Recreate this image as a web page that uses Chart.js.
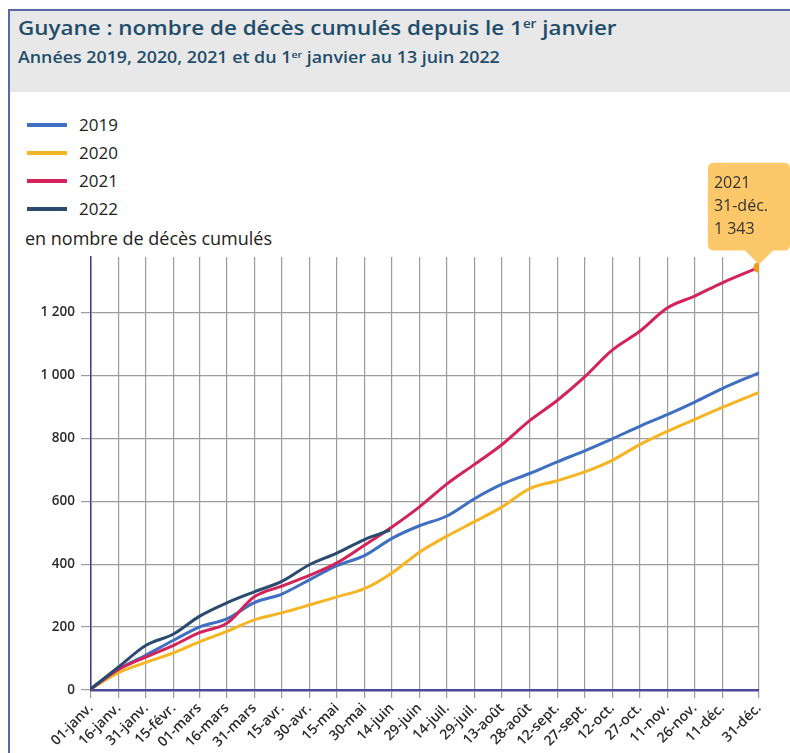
<!DOCTYPE html>
<html lang="fr">
<head>
<meta charset="utf-8">
<script src="https://cdn.jsdelivr.net/npm/chart.js@4.4.0/dist/chart.umd.min.js"></script>
<style>
  html, body { margin: 0; padding: 0; background: #fff; }
  body { width: 790px; height: 753px; position: relative; overflow: hidden; font-family: "Open Sans", sans-serif; }
  .frame { position: absolute; left: 8px; top: 9px; right: 0; bottom: 0; border-left: 2px solid #5a68a8; border-top: 2px solid #5a68a8; }
  .header { position: absolute; left: 10px; top: 11px; right: 0; height: 81px; background: #e8e8e8; }
  .title { position: absolute; left: 18px; top: 18px; font-size: 20px; line-height: 20px; font-weight: 600; color: #1f4d6b; white-space: nowrap; transform: scaleX(1.12); transform-origin: left top; }
  .subtitle { position: absolute; left: 18px; top: 50px; font-size: 15.5px; line-height: 15.5px; font-weight: 600; color: #1f4d6b; white-space: nowrap; transform: scaleX(1.15); transform-origin: left top; }
  sup { font-size: 0.6em; vertical-align: 0.55em; line-height: 0; }
  .legend { position: absolute; left: 27px; top: 0; }
  .legend div { position: absolute; left: 0; white-space: nowrap; font-size: 17px; line-height: 17px; color: #222; }
  .legend span { position: absolute; left: 0; top: 7px; width: 40px; height: 4px; }
  .legend b { position: absolute; left: 52px; top: 0; font-weight: 400; }
  .ytitle { position: absolute; left: 25px; top: 229px; font-size: 18px; line-height: 18px; color: #222; white-space: nowrap; }
  #chart { position: absolute; left: 0; top: 0; }
</style>
</head>
<body>
<div class="frame"></div>
<div class="header"></div>
<div class="title">Guyane : nombre de décès cumulés depuis le 1<sup>er</sup> janvier</div>
<div class="subtitle">Années 2019, 2020, 2021 et du 1<sup>er</sup> janvier au 13 juin 2022</div>
<div class="legend" id="legend"></div>
<div class="ytitle">en nombre de décès cumulés</div>
<canvas id="chart" width="790" height="753"></canvas>

<script>
// ===== Données =====
const years = ['2019', '2020', '2021', '2022'];
const colors = ['#3f6fc2', '#f7b423', '#d3235a', '#2a4a70'];

// jours depuis le 1er janvier (0 = 01-janv.)
const tickDays = [0, 15, 30, 45, 59, 74, 89, 104, 119, 134, 149, 164, 179, 194, 209, 224, 239, 254, 269, 284, 299, 314, 329, 344, 364];
const tickLabels = ['01-janv.', '16-janv.', '31-janv.', '15-févr.', '01-mars', '16-mars', '31-mars', '15-avr.', '30-avr.', '15-mai', '30-mai', '14-juin',
    '29-juin', '14-juil.', '29-juil.', '13-août', '28-août', '12-sept.', '27-sept.', '12-oct.', '27-oct.', '11-nov.', '26-nov.', '11-déc.', '31-déc.'];
const yTicks = [0, 200, 400, 600, 800, 1000, 1200];

const days2022 = [0, 15, 30, 45, 59, 74, 89, 104, 119, 134, 149, 163];

const deaths2019 = [4, 66, 111, 158, 200, 226, 278, 305, 350, 395, 427, 482, 522, 553, 608, 654, 688, 725, 760, 798, 838, 875, 915, 958, 1008];
const deaths2020 = [4, 55, 88, 118, 153, 186, 223, 245, 270, 296, 322, 372, 438, 489, 535, 582, 640, 665, 693, 730, 780, 822, 860, 898, 946];
const deaths2021 = [4, 65, 105, 142, 182, 212, 296, 330, 364, 404, 460, 518, 582, 655, 717, 780, 856, 920, 995, 1080, 1140, 1214, 1252, 1294, 1343];
const deaths2022 = [4, 73, 142, 178, 234, 277, 312, 345, 398, 435, 478, 508];

const fmt = v => String(v).replace(/\B(?=(\d{3})+(?!\d))/g, ' ');

// ===== Légende =====
const legend = document.getElementById('legend');
years.forEach((y, i) => {
    const row = document.createElement('div');
    row.style.top = (116 + i * 28) + 'px';
    row.innerHTML = `<span style="background:${colors[i]}"></span><b>${y}</b>`;
    legend.appendChild(row);
});

// ===== Graphique =====
const series = [
    { days: tickDays, values: deaths2019, order: 2 },
    { days: tickDays, values: deaths2020, order: 3 },
    { days: tickDays, values: deaths2021, order: 1 },
    { days: days2022, values: deaths2022, order: 0 },
];
const lastIdx = deaths2021.length - 1;

const chart = new Chart(document.getElementById('chart'), {
    type: 'line',
    data: {
        datasets: series.map((s, i) => ({
            label: years[i],
            data: s.days.map((d, k) => ({ x: d, y: s.values[k] })),
            borderColor: colors[i],
            borderWidth: 3,
            cubicInterpolationMode: 'monotone',
            order: s.order,
            pointRadius: i === 2 ? (ctx => ctx.dataIndex === lastIdx ? 5.5 : 0) : 0,
            pointBackgroundColor: '#f29a1c',
            pointBorderWidth: 0,
        }))
    },
    options: {
        responsive: false,
        animation: false,
        events: [],
        layout: { padding: { top: 257, right: 31, left: 0, bottom: 0 } },
        scales: {
            x: {
                type: 'linear',
                min: 0,
                max: 364,
                afterBuildTicks: axis => { axis.ticks = tickDays.map(v => ({ value: v })); },
                afterFit: axis => { axis.height = 63; },
                grid: { color: '#9c9c9c', lineWidth: 1.2, tickLength: 8 },
                border: { color: '#4a4a9c', width: 2.5 },
                ticks: {
                    autoSkip: false,
                    maxRotation: 45,
                    minRotation: 45,
                    padding: 2,
                    color: '#2a2a2a',
                    font: { family: 'Open Sans', size: 14, weight: '600' },
                    callback: (v, i) => tickLabels[i],
                }
            },
            y: {
                min: 0,
                max: 1376,
                afterBuildTicks: axis => { axis.ticks = yTicks.map(v => ({ value: v })); },
                afterFit: axis => { axis.width = 91; },
                grid: { color: '#9c9c9c', lineWidth: 1.2, tickLength: 10 },
                border: { color: '#3d3d8c', width: 1.5 },
                ticks: {
                    padding: 6,
                    color: '#2a2a2a',
                    font: { family: 'Open Sans', size: 13.5, weight: '600' },
                    callback: v => fmt(v),
                }
            }
        },
        plugins: {
            legend: { display: false },
            tooltip: {
                enabled: true,
                backgroundColor: '#fcc86a',
                bodyColor: '#333',
                bodyFont: { family: 'Open Sans', size: 16 },
                bodySpacing: 4,
                padding: { top: 11, bottom: 11, left: 6, right: 22 },
                displayColors: false,
                caretSize: 14,
                caretPadding: 3,
                cornerRadius: 6,
                xAlign: 'center',
                yAlign: 'bottom',
                callbacks: {
                    title: () => '',
                    label: ctx => [years[ctx.datasetIndex], tickLabels[tickDays.indexOf(ctx.raw.x)], fmt(ctx.raw.y)],
                }
            }
        }
    }
});

// info-bulle sur le dernier point 2021
const pt = chart.getDatasetMeta(2).data[lastIdx];
chart.tooltip.setActiveElements([{ datasetIndex: 2, index: lastIdx }], { x: pt.x, y: pt.y });
chart.update();
</script>
</body>
</html>
